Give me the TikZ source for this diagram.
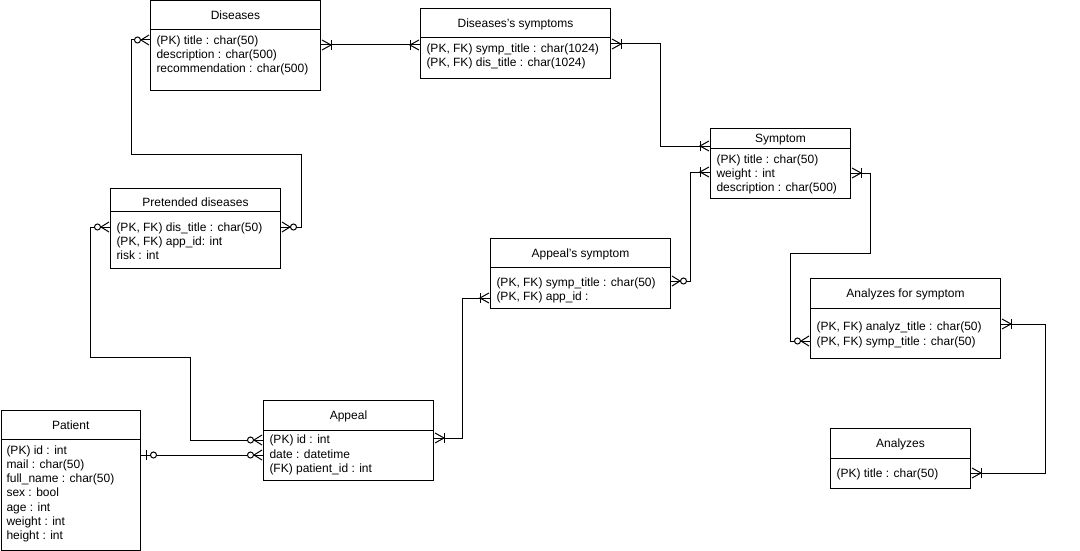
\documentclass[tikz,border=0pt]{standalone}
\usepackage{fontspec}
\setmainfont{Liberation Sans}
\begin{document}
\begin{tikzpicture}[x=1pt,y=-1pt,line width=1pt,
  every node/.style={font=\fontsize{12}{14}\selectfont},
  erbox/.style={draw,anchor=north west,inner sep=0pt},
  ttl/.style={inner sep=0pt,text height=8.6pt,text depth=0pt},
  row/.style={anchor=west,inner sep=0pt,text height=8.6pt,text depth=0pt},
  conn/.style={draw,line width=1pt},
  onemany/.pic={\draw (1,5)--(10,0)--(1,-5); \draw (10,5)--(10,-5);},
  zeromany/.pic={\draw (1,5)--(9,0)--(1,-5); \draw[fill=white] (12.5,0) circle (3pt);},
  zeroone/.pic={\draw (5,5)--(5,-5); \draw[fill=white] (12.5,0) circle (3pt);}
]
\useasboundingbox (0,0) rectangle (1080,551);

% Diseases
\node[erbox,minimum width=170pt,minimum height=89.5pt] (dis) at (150,0.5) {};
\draw (dis.west |- 0,30) -- (dis.east |- 0,30);
\node[ttl] (dist) at (dis.center |- 0,15) {Diseases};
\node[row] (dis1) at (156,40) {(PK) title : char(50)};
\node[row] (dis2) at (156,54) {description : char(500)};
\node[row] (dis3) at (156,68) {recommendation : char(500)};

% Diseases's symptoms
\node[erbox,minimum width=190pt,minimum height=70pt] (dsy) at (420,8) {};
\draw (dsy.west |- 0,38) -- (dsy.east |- 0,38);
\node[ttl] (dsyt) at (dsy.center |- 0,23) {Diseases's symptoms};
\node[row] (dsy1) at (426,48) {(PK, FK) symp\_title : char(1024)};
\node[row] (dsy2) at (426,62) {(PK, FK) dis\_title : char(1024)};

% Symptom
\node[erbox,minimum width=140pt,minimum height=70pt] (sym) at (710,128) {};
\draw (sym.west |- 0,148) -- (sym.east |- 0,148);
\node[ttl] (symt) at (sym.center |- 0,138) {Symptom};
\node[row] (sym1) at (716,159) {(PK) title : char(50)};
\node[row] (sym2) at (716,173) {weight : int};
\node[row] (sym3) at (716,187) {description : char(500)};

% Pretended diseases
\node[erbox,minimum width=170pt,minimum height=80pt] (pd) at (110,188) {};
\draw (pd.west |- 0,211) -- (pd.east |- 0,211);
\node[ttl] (pdt) at (pd.center |- 0,202) {Pretended diseases};
\node[row] (pd1) at (116,227) {(PK, FK) dis\_title : char(50)};
\node[row] (pd2) at (116,241) {(PK, FK) app\_id: int};
\node[row] (pd3) at (116,255) {risk : int};

% Appeal's symptom
\node[erbox,minimum width=180pt,minimum height=70pt] (aps) at (490,238) {};
\draw (aps.west |- 0,267) -- (aps.east |- 0,267);
\node[ttl] (apst) at (aps.center |- 0,253) {Appeal's symptom};
\node[row] (aps1) at (496,282) {(PK, FK) symp\_title : char(50)};
\node[row] (aps2) at (496,296) {(PK, FK) app\_id :};

% Analyzes for symptom
\node[erbox,minimum width=190pt,minimum height=80pt] (afs) at (810,278) {};
\draw (afs.west |- 0,308) -- (afs.east |- 0,308);
\node[ttl] (afst) at (afs.center |- 0,293) {Analyzes for symptom};
\node[row] (afs1) at (816,326) {(PK, FK) analyz\_title : char(50)};
\node[row] (afs2) at (816,341) {(PK, FK) symp\_title : char(50)};

% Appeal
\node[erbox,minimum width=170pt,minimum height=80pt] (app) at (263,400) {};
\draw (app.west |- 0,430) -- (app.east |- 0,430);
\node[ttl] (appt) at (app.center |- 0,415) {Appeal};
\node[row] (app1) at (269,439) {(PK) id : int};
\node[row] (app2) at (269,454) {date : datetime};
\node[row] (app3) at (269,468) {(FK) patient\_id : int};

% Patient
\node[erbox,minimum width=139.5pt,minimum height=140pt] (pat) at (0.5,410) {};
\draw (pat.west |- 0,439) -- (pat.east |- 0,439);
\node[ttl] (patt) at (pat.center |- 0,425) {Patient};
\node[row] (pat1) at (6,450) {(PK) id : int};
\node[row] (pat2) at (6,464) {mail : char(50)};
\node[row] (pat3) at (6,478) {full\_name : char(50)};
\node[row] (pat4) at (6,492) {sex : bool};
\node[row] (pat5) at (6,507) {age : int};
\node[row] (pat6) at (6,521) {weight : int};
\node[row] (pat7) at (6,535) {height : int};

% Analyzes
\node[erbox,minimum width=140pt,minimum height=60pt] (an) at (830,428) {};
\draw (an.west |- 0,458) -- (an.east |- 0,458);
\node[ttl] (ant) at (an.center |- 0,443) {Analyzes};
\node[row] (an1) at (836,473) {(PK) title : char(50)};

% Connectors
\draw[conn] (dis.east |- 0,45) -- (dsy.west |- 0,45);
\draw[conn] (dsy.east |- 0,44) -| (660,146) -- (sym.west |- 0,146);
\draw[conn] (dis.west |- 0,40) -| (131,154) -| (301,227) -- (pd.east |- 0,227);
\draw[conn] (pd.west |- 0,227) -| (90,357) -| (190,440) -- (app.west |- 0,440);
\draw[conn] (pat.east |- 0,455) -- (app.west |- 0,455);
\draw[conn] (app.east |- 0,438) -| (462,298) -- (aps.west |- 0,298);
\draw[conn] (aps.east |- 0,281) -| (690,172) -- (sym.west |- 0,172);
\draw[conn] (sym.east |- 0,173) -| (870,253) -| (790,341) -- (afs.west |- 0,341);
\draw[conn] (afs.east |- 0,324) -| (1045,473) -- (an.east |- 0,473);

% Markers
\pic at (dis.east |- 0,45) {onemany};
\pic[rotate=180] at (dsy.west |- 0,45) {onemany};
\pic at (dsy.east |- 0,44) {onemany};
\pic[rotate=180] at (sym.west |- 0,146) {onemany};
\pic[rotate=180] at (dis.west |- 0,40) {zeromany};
\pic at (pd.east |- 0,227) {zeromany};
\pic[rotate=180] at (pd.west |- 0,227) {zeromany};
\pic[rotate=180] at (app.west |- 0,440) {zeromany};
\pic at (pat.east |- 0,455) {zeroone};
\pic[rotate=180] at (app.west |- 0,455) {zeromany};
\pic at (app.east |- 0,438) {onemany};
\pic[rotate=180] at (aps.west |- 0,298) {onemany};
\pic at (aps.east |- 0,281) {zeromany};
\pic[rotate=180] at (sym.west |- 0,172) {onemany};
\pic at (sym.east |- 0,173) {onemany};
\pic[rotate=180] at (afs.west |- 0,341) {zeromany};
\pic at (afs.east |- 0,324) {onemany};
\pic at (an.east |- 0,473) {onemany};
\end{tikzpicture}
\end{document}
